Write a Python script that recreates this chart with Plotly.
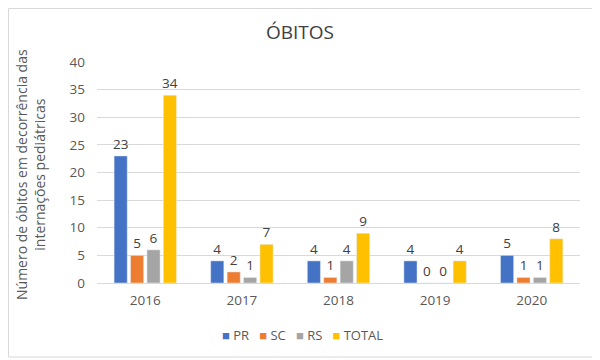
import plotly.graph_objects as go

years = ["2016", "2017", "2018", "2019", "2020"]
pr = [23, 4, 4, 4, 5]
sc = [5, 2, 1, 0, 1]
rs = [6, 1, 4, 0, 1]
total = [34, 7, 9, 4, 8]
names = ["PR", "SC", "RS", "TOTAL"]
colors = ["#4472C4", "#ED7D31", "#A5A5A5", "#FFC000"]

FONT = "Open Sans"
W, H = 592, 352          # page body adds an 8px offset
L, R, T, B = 89, 20, 54, 77
PW, PH = W - L - R, H - T - B

fig = go.Figure()
for name, vals, color in zip(names, [pr, sc, rs, total], colors):
    fig.add_trace(go.Bar(
        x=years, y=vals, name=name, marker_color=color,
        text=[str(v) for v in vals], textposition="outside",
        textfont=dict(size=13.5, color="#404040", family=FONT),
        constraintext="none", cliponaxis=False, showlegend=False,
    ))

legend_text = "   ".join(
    f"<span style='color:{c}'>■</span> {n}" for n, c in zip(names, colors)
)

fig.update_layout(
    width=W, height=H,
    margin=dict(l=L, r=R, t=T, b=B, autoexpand=False),
    paper_bgcolor="white", plot_bgcolor="white",
    barmode="group", bargap=0.32, bargroupgap=0.2,
    font=dict(family=FONT, size=13, color="#595959"),
    title=dict(text="ÓBITOS", x=292 / W, xanchor="center", y=1 - 24 / H, yanchor="middle",
               font=dict(size=19, color="#404040", family=FONT)),
    showlegend=False,
    xaxis=dict(showline=True, linecolor="#D9D9D9", linewidth=1, ticks="",
               tickfont=dict(size=13.5, color="#595959"), automargin=False,
               ticklabelstandoff=5),
    yaxis=dict(range=[0, 40], dtick=5, showgrid=True, gridcolor="#D9D9D9", gridwidth=1,
               zeroline=False, ticks="", tickfont=dict(size=13.5, color="#595959"),
               automargin=False, ticklabelstandoff=11),
    annotations=[
        dict(text="Número de óbitos em decorrência das<br>internações pediátricas",
             textangle=-90, xref="paper", yref="paper",
             x=(22 - L) / PW, y=1 - (167 - T) / PH, xanchor="center", yanchor="middle",
             showarrow=False, font=dict(size=14, color="#595959", family=FONT)),
        dict(text=legend_text, xref="paper", yref="paper",
             x=(294 - L) / PW, y=(T + PH - 327) / PH, xanchor="center", yanchor="middle",
             showarrow=False, font=dict(size=13, color="#595959", family=FONT)),
    ],
)
fig.add_shape(type="rect", xref="paper", yref="paper",
              x0=(0.5 - L) / PW, x1=(587 - L) / PW,
              y0=(T + PH - 349) / PH, y1=(T + PH - 0.5) / PH,
              line=dict(color="#D9D9D9", width=1), fillcolor="rgba(0,0,0,0)", layer="below")
fig.write_html("out.html")
